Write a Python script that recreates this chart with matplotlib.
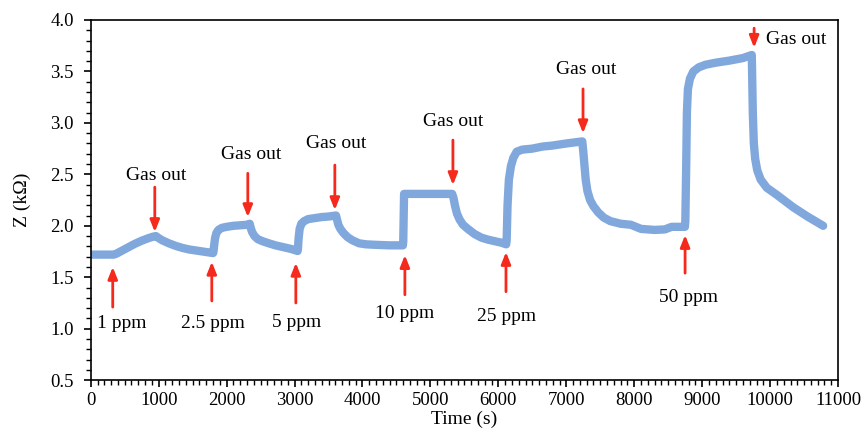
import matplotlib.pyplot as plt
from matplotlib.ticker import MultipleLocator

plt.rcParams['font.family'] = ['Liberation Serif', 'DejaVu Serif']

# impedance response
time_s = [0, 300, 340, 380, 450, 550, 650, 750, 850, 920, 960,
          990, 1050, 1150, 1250, 1350, 1450, 1550, 1650, 1750, 1800,
          1805, 1815, 1830, 1850, 1880, 1930, 2000, 2100, 2200, 2300, 2340,
          2355, 2375, 2410, 2460, 2530, 2620, 2720, 2850, 2950, 3045,
          3050, 3060, 3075, 3100, 3140, 3200, 3300, 3400, 3500, 3610,
          3625, 3645, 3675, 3720, 3780, 3850, 3950, 4050, 4200, 4400, 4595,
          4600, 4612, 4700, 5000, 5320,
          5340, 5360, 5390, 5430, 5480, 5550, 5650, 5750, 5850, 5950, 6050, 6115,
          6122, 6135, 6155, 6185, 6220, 6270, 6350, 6500, 6650, 6800, 7000, 7235,
          7250, 7265, 7285, 7310, 7350, 7400, 7470, 7550, 7650, 7800, 7950,
          8100, 8300, 8450, 8550, 8745,
          8752, 8765, 8775, 8790, 8820, 8870, 8950, 9050, 9200, 9400, 9600, 9730,
          9745, 9760, 9780, 9810, 9860, 9950, 10100, 10340, 10550, 10780]
z_kohm = [1.72, 1.72, 1.72, 1.73, 1.755, 1.79, 1.825, 1.855, 1.88, 1.895, 1.90,
          1.885, 1.86, 1.83, 1.805, 1.785, 1.77, 1.76, 1.75, 1.74, 1.735,
          1.74, 1.80, 1.88, 1.93, 1.96, 1.98, 1.99, 2.00, 2.005, 2.01, 2.02,
          1.98, 1.94, 1.90, 1.87, 1.85, 1.83, 1.81, 1.79, 1.775, 1.755,
          1.78, 1.88, 1.97, 2.02, 2.045, 2.065, 2.075, 2.085, 2.09, 2.10,
          2.06, 2.01, 1.97, 1.93, 1.89, 1.86, 1.83, 1.82, 1.815, 1.81, 1.81,
          1.85, 2.31, 2.31, 2.31, 2.31,
          2.27, 2.20, 2.12, 2.06, 2.01, 1.97, 1.92, 1.885, 1.865, 1.85, 1.835, 1.82,
          1.86, 2.20, 2.45, 2.58, 2.66, 2.72, 2.74, 2.75, 2.77, 2.78, 2.80, 2.82,
          2.72, 2.60, 2.45, 2.34, 2.25, 2.19, 2.13, 2.08, 2.045, 2.02, 2.01,
          1.97, 1.96, 1.965, 1.99, 1.99,
          2.05, 2.60, 3.10, 3.33, 3.43, 3.50, 3.54, 3.565, 3.585, 3.605, 3.63, 3.66,
          3.10, 2.80, 2.65, 2.54, 2.45, 2.37, 2.30, 2.18, 2.09, 2.00]

# gas-in markers: arrow time, tail, tip, label and label position
gas_in_t = [324, 1782, 3019, 4624, 6112, 8748]
gas_in_tail = [1.21, 1.27, 1.25, 1.33, 1.36, 1.54]
gas_in_tip = [1.60, 1.65, 1.64, 1.715, 1.745, 1.91]
gas_in_labels = ['1 ppm', '2.5 ppm', '5 ppm', '10 ppm', '25 ppm', '50 ppm']
gas_in_label_t = [457, 1797, 3034, 4624, 6126, 8792]
gas_in_label_z = [1.054, 1.054, 1.064, 1.15, 1.122, 1.307]

# gas-out markers
gas_out_t = [943, 2312, 3593, 5331, 7246, 9764]
gas_out_tail = [2.376, 2.51, 2.59, 2.833, 3.33, 3.92]
gas_out_tip = [1.94, 2.085, 2.153, 2.396, 2.90, 3.73]
gas_out_label_t = [957, 2356, 3608, 5331, 7290, 9941]
gas_out_label_z = [2.49, 2.69, 2.80, 3.018, 3.514, 3.806]

fig = plt.figure(figsize=(8.64, 4.34), dpi=100)
ax = fig.add_axes([0.105, 0.124, 0.865, 0.830])

ax.plot(time_s, z_kohm, color='#80a8dc', linewidth=6, solid_capstyle='round',
        solid_joinstyle='round')

arrow = dict(arrowstyle='-|>,head_length=0.5,head_width=0.2', color='#f5291c',
             lw=2, shrinkA=0, shrinkB=0, mutation_scale=14)
for t, a, b in zip(gas_in_t, gas_in_tail, gas_in_tip):
    ax.annotate('', xy=(t, b), xytext=(t, a), arrowprops=arrow)
for lab, t, z in zip(gas_in_labels, gas_in_label_t, gas_in_label_z):
    ax.text(t, z, lab, ha='center', va='center', fontsize=14)

for t, a, b in zip(gas_out_t, gas_out_tail, gas_out_tip):
    ax.annotate('', xy=(t, b), xytext=(t, a), arrowprops=arrow)
for i, (t, z) in enumerate(zip(gas_out_label_t, gas_out_label_z)):
    ax.text(t, z, 'Gas out', ha='left' if i == 5 else 'center', va='center',
            fontsize=14)

ax.set_xlim(0, 11000)
ax.set_ylim(0.5, 4.0)
ax.xaxis.set_major_locator(MultipleLocator(1000))
ax.xaxis.set_minor_locator(MultipleLocator(100))
ax.yaxis.set_major_locator(MultipleLocator(0.5))
ax.yaxis.set_minor_locator(MultipleLocator(0.1))
ax.yaxis.set_major_formatter(plt.FuncFormatter(lambda v, p: f'{v:.1f}'))
ax.tick_params(which='major', direction='out', length=5, width=1.2, labelsize=13.5)
ax.tick_params(which='minor', direction='out', length=3.5, width=1)
ax.tick_params(axis='y', which='major', pad=7)
for s in ax.spines.values():
    s.set_linewidth(1.2)

ax.set_xlabel('Time (s)', fontsize=14, labelpad=1)
ax.set_ylabel('Z (k\u03a9)', fontsize=14, labelpad=14)

fig.savefig('out.png', dpi=100)
